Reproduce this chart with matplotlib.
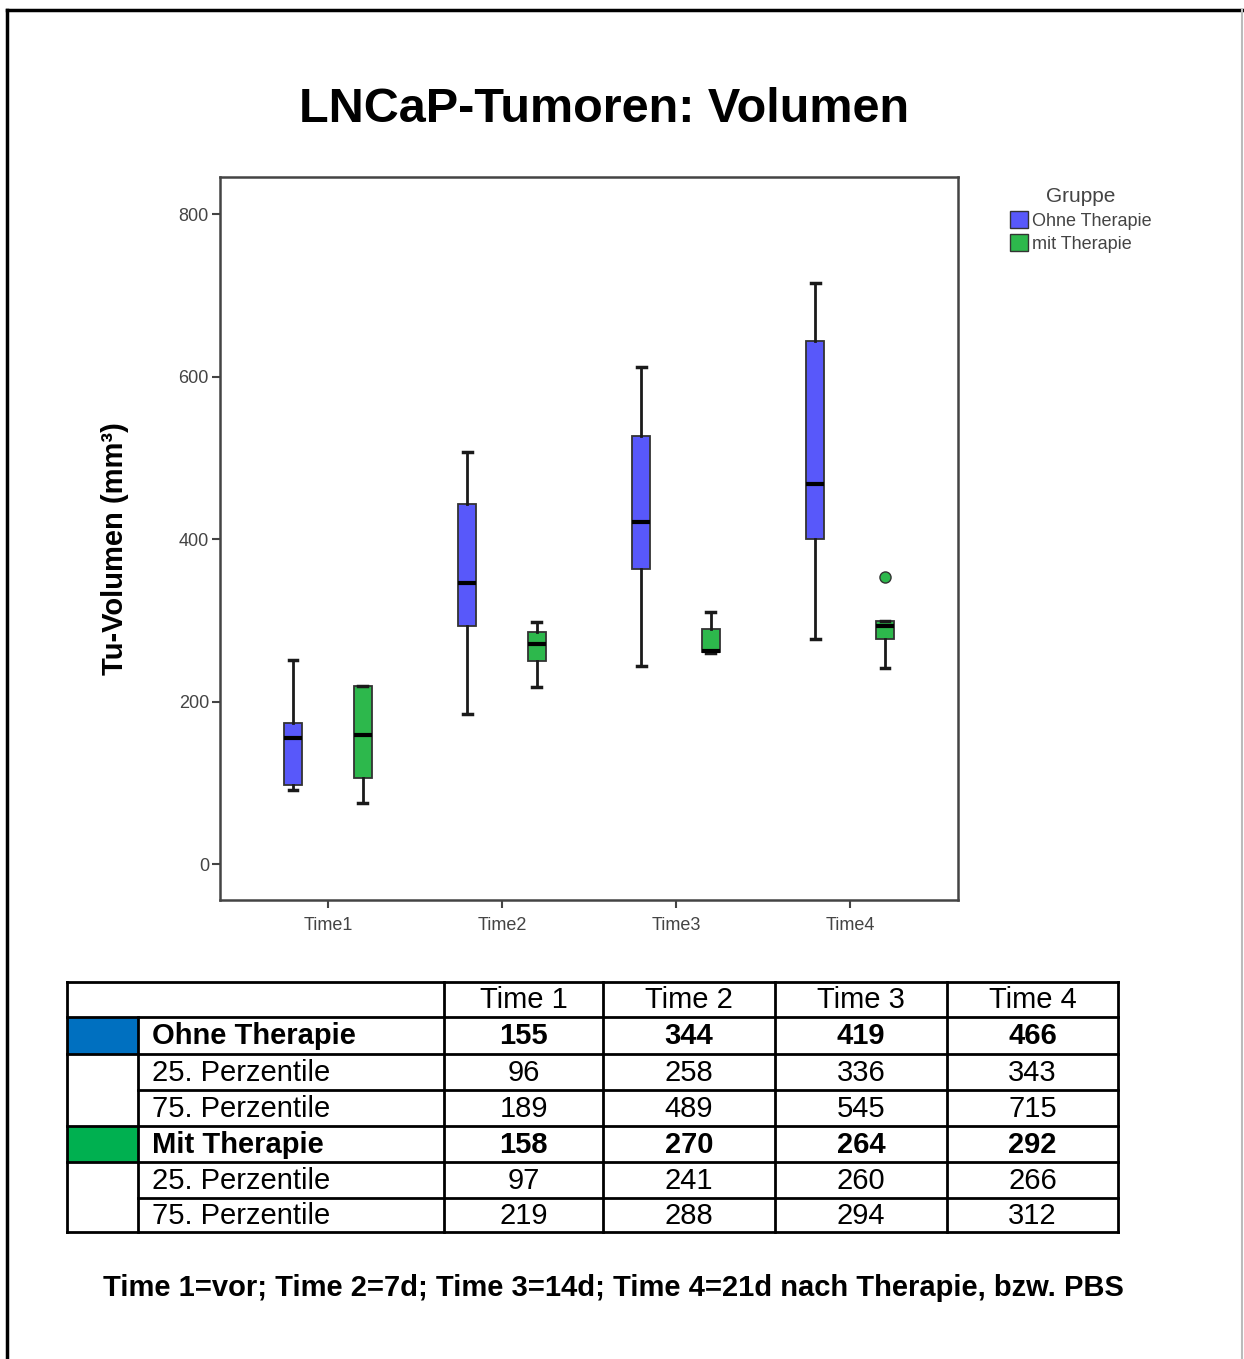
import numpy as np
import matplotlib.pyplot as plt
from matplotlib.patches import Patch, Rectangle
from matplotlib.lines import Line2D

plt.rcParams['font.family'] = ['Liberation Sans', 'DejaVu Sans']

# --- data ---
times = ['Time1', 'Time2', 'Time3', 'Time4']
groups = ['Ohne Therapie', 'mit Therapie']

ohne_whislo = [92, 185, 244, 277]
ohne_q1 = [98, 293, 364, 401]
ohne_med = [155, 346, 421, 468]
ohne_q3 = [174, 443, 527, 644]
ohne_whishi = [252, 508, 612, 716]
ohne_fliers = [[], [], [], []]

mit_whislo = [76, 218, 260, 242]
mit_q1 = [106, 250, 261, 277]
mit_med = [159, 271, 263, 293]
mit_q3 = [220, 286, 289, 299]
mit_whishi = [220, 298, 310, 299]
mit_fliers = [[], [], [], [354]]

yticks = [0, 200, 400, 600, 800]

# table
tab_cols = ['Time 1', 'Time 2', 'Time 3', 'Time 4']
tab_rows = ['Ohne Therapie', '25. Perzentile', '75. Perzentile',
            'Mit Therapie', '25. Perzentile', '75. Perzentile']
tab_vals = [[155, 344, 419, 466],
            [96, 258, 336, 343],
            [189, 489, 545, 715],
            [158, 270, 264, 292],
            [97, 241, 260, 266],
            [219, 288, 294, 312]]

W, H = 1244, 1359
blue = '#5858FA'
green = '#2DB84C'

fig = plt.figure(figsize=(W / 100, H / 100), dpi=100)


def fx(x):
    return x / W


def fy(y):
    return 1 - y / H


# outer frame
fig.add_artist(Line2D([fx(7), fx(7)], [fy(10), fy(1359)], color='black', lw=2.5))
fig.add_artist(Line2D([fx(7), fx(1243)], [fy(10), fy(10)], color='black', lw=2.5))
fig.add_artist(Line2D([fx(1242), fx(1242)], [fy(10), fy(1359)], color='#bbbbbb', lw=1.5))

fig.text(fx(604), fy(110), 'LNCaP-Tumoren: Volumen', ha='center', va='center',
         fontsize=35, fontweight='bold')

ax = fig.add_axes([fx(220), fy(900), (958 - 220) / W, (900 - 177) / H])


def stats(lo, q1, med, q3, hi, fl):
    return [dict(whislo=lo[i], q1=q1[i], med=med[i], q3=q3[i], whishi=hi[i],
                 fliers=fl[i]) for i in range(len(lo))]


pos = np.arange(len(times))
for st, off, col in [(stats(ohne_whislo, ohne_q1, ohne_med, ohne_q3, ohne_whishi, ohne_fliers), -0.2, blue),
                     (stats(mit_whislo, mit_q1, mit_med, mit_q3, mit_whishi, mit_fliers), 0.2, green)]:
    ax.bxp(st, positions=pos + off, widths=0.105, capwidths=0.05, patch_artist=True,
           boxprops=dict(facecolor=col, edgecolor='#333333', lw=1.3),
           medianprops=dict(color='black', lw=3),
           whiskerprops=dict(color='#1a1a1a', lw=2),
           capprops=dict(color='#1a1a1a', lw=2.5),
           flierprops=dict(marker='o', markerfacecolor=col, markeredgecolor='#333333',
                           markersize=8))

ax.set_xlim(-0.62, 3.62)
ax.set_ylim(-44, 846)
ax.set_xticks(pos)
ax.set_xticklabels(times)
ax.set_yticks(yticks)
ax.tick_params(axis='both', direction='out', length=6, width=1.5, color='#444444',
               labelsize=13, labelcolor='#444444')
ax.tick_params(axis='x', pad=6)
ax.tick_params(axis='y', pad=2)
for s in ax.spines.values():
    s.set_color('#444444')
    s.set_linewidth(1.8)
fig.text(fx(115), fy(549), 'Tu-Volumen (mm³)', rotation=90, ha='center', va='center',
         fontsize=21, fontweight='bold')

handles = [Patch(facecolor=blue, edgecolor='#333333', label=groups[0]),
           Patch(facecolor=green, edgecolor='#333333', label=groups[1])]
leg = fig.legend(handles=handles, title='Gruppe', loc='upper left',
                 bbox_to_anchor=(fx(1003), fy(180)), frameon=False, fontsize=13,
                 title_fontsize=15, handlelength=1.0, handleheight=1.1,
                 handletextpad=0.2, labelspacing=0.25, borderaxespad=0)
for t in leg.get_texts():
    t.set_color('#444444')
leg.get_title().set_color('#444444')

# --- table drawn by hand ---
col_x = [67, 138, 444, 603, 775, 947, 1118]
row_y = [982, 1017, 1054, 1090, 1126, 1162, 1198, 1232]
lw_t = 2.0


def hline(x0, x1, y):
    fig.add_artist(Line2D([fx(x0), fx(x1)], [fy(y), fy(y)], color='black', lw=lw_t))


def vline(x, y0, y1):
    fig.add_artist(Line2D([fx(x), fx(x)], [fy(y0), fy(y1)], color='black', lw=lw_t))


# colour cells
for r, c in [(1, '#0070C0'), (4, '#00B050')]:
    fig.add_artist(Rectangle((fx(67), fy(row_y[r + 1])), (138 - 67) / W,
                             (row_y[r + 1] - row_y[r]) / H, facecolor=c, edgecolor='none'))

hline(col_x[0], col_x[-1], row_y[0])
hline(col_x[0], col_x[-1], row_y[-1])
for i in range(1, len(row_y) - 1):
    if i in (3, 6):
        hline(col_x[1], col_x[-1], row_y[i])
    else:
        hline(col_x[0], col_x[-1], row_y[i])
vline(col_x[0], row_y[0], row_y[-1])
vline(col_x[1], row_y[1], row_y[-1])
for x in col_x[2:]:
    vline(x, row_y[0], row_y[-1])

for j, c in enumerate(tab_cols):
    xc = (col_x[j + 2] + col_x[j + 3]) / 2
    fig.text(fx(xc), fy((row_y[0] + row_y[1]) / 2 + 1), c, ha='center', va='center',
             fontsize=21)
for i, lab in enumerate(tab_rows):
    bold = 'bold' if i in (0, 3) else 'normal'
    yc = (row_y[i + 1] + row_y[i + 2]) / 2 + 1
    fig.text(fx(152), fy(yc), lab, ha='left', va='center', fontsize=21, fontweight=bold)
    for j, v in enumerate(tab_vals[i]):
        xc = (col_x[j + 2] + col_x[j + 3]) / 2
        fig.text(fx(xc), fy(yc), str(v), ha='center', va='center', fontsize=21,
                 fontweight=bold)

fig.text(fx(613), fy(1288), 'Time 1=vor; Time 2=7d; Time 3=14d; Time 4=21d nach Therapie, bzw. PBS',
         ha='center', va='center', fontsize=21, fontweight='bold')

fig.savefig('out.png', dpi=100, facecolor='white')
